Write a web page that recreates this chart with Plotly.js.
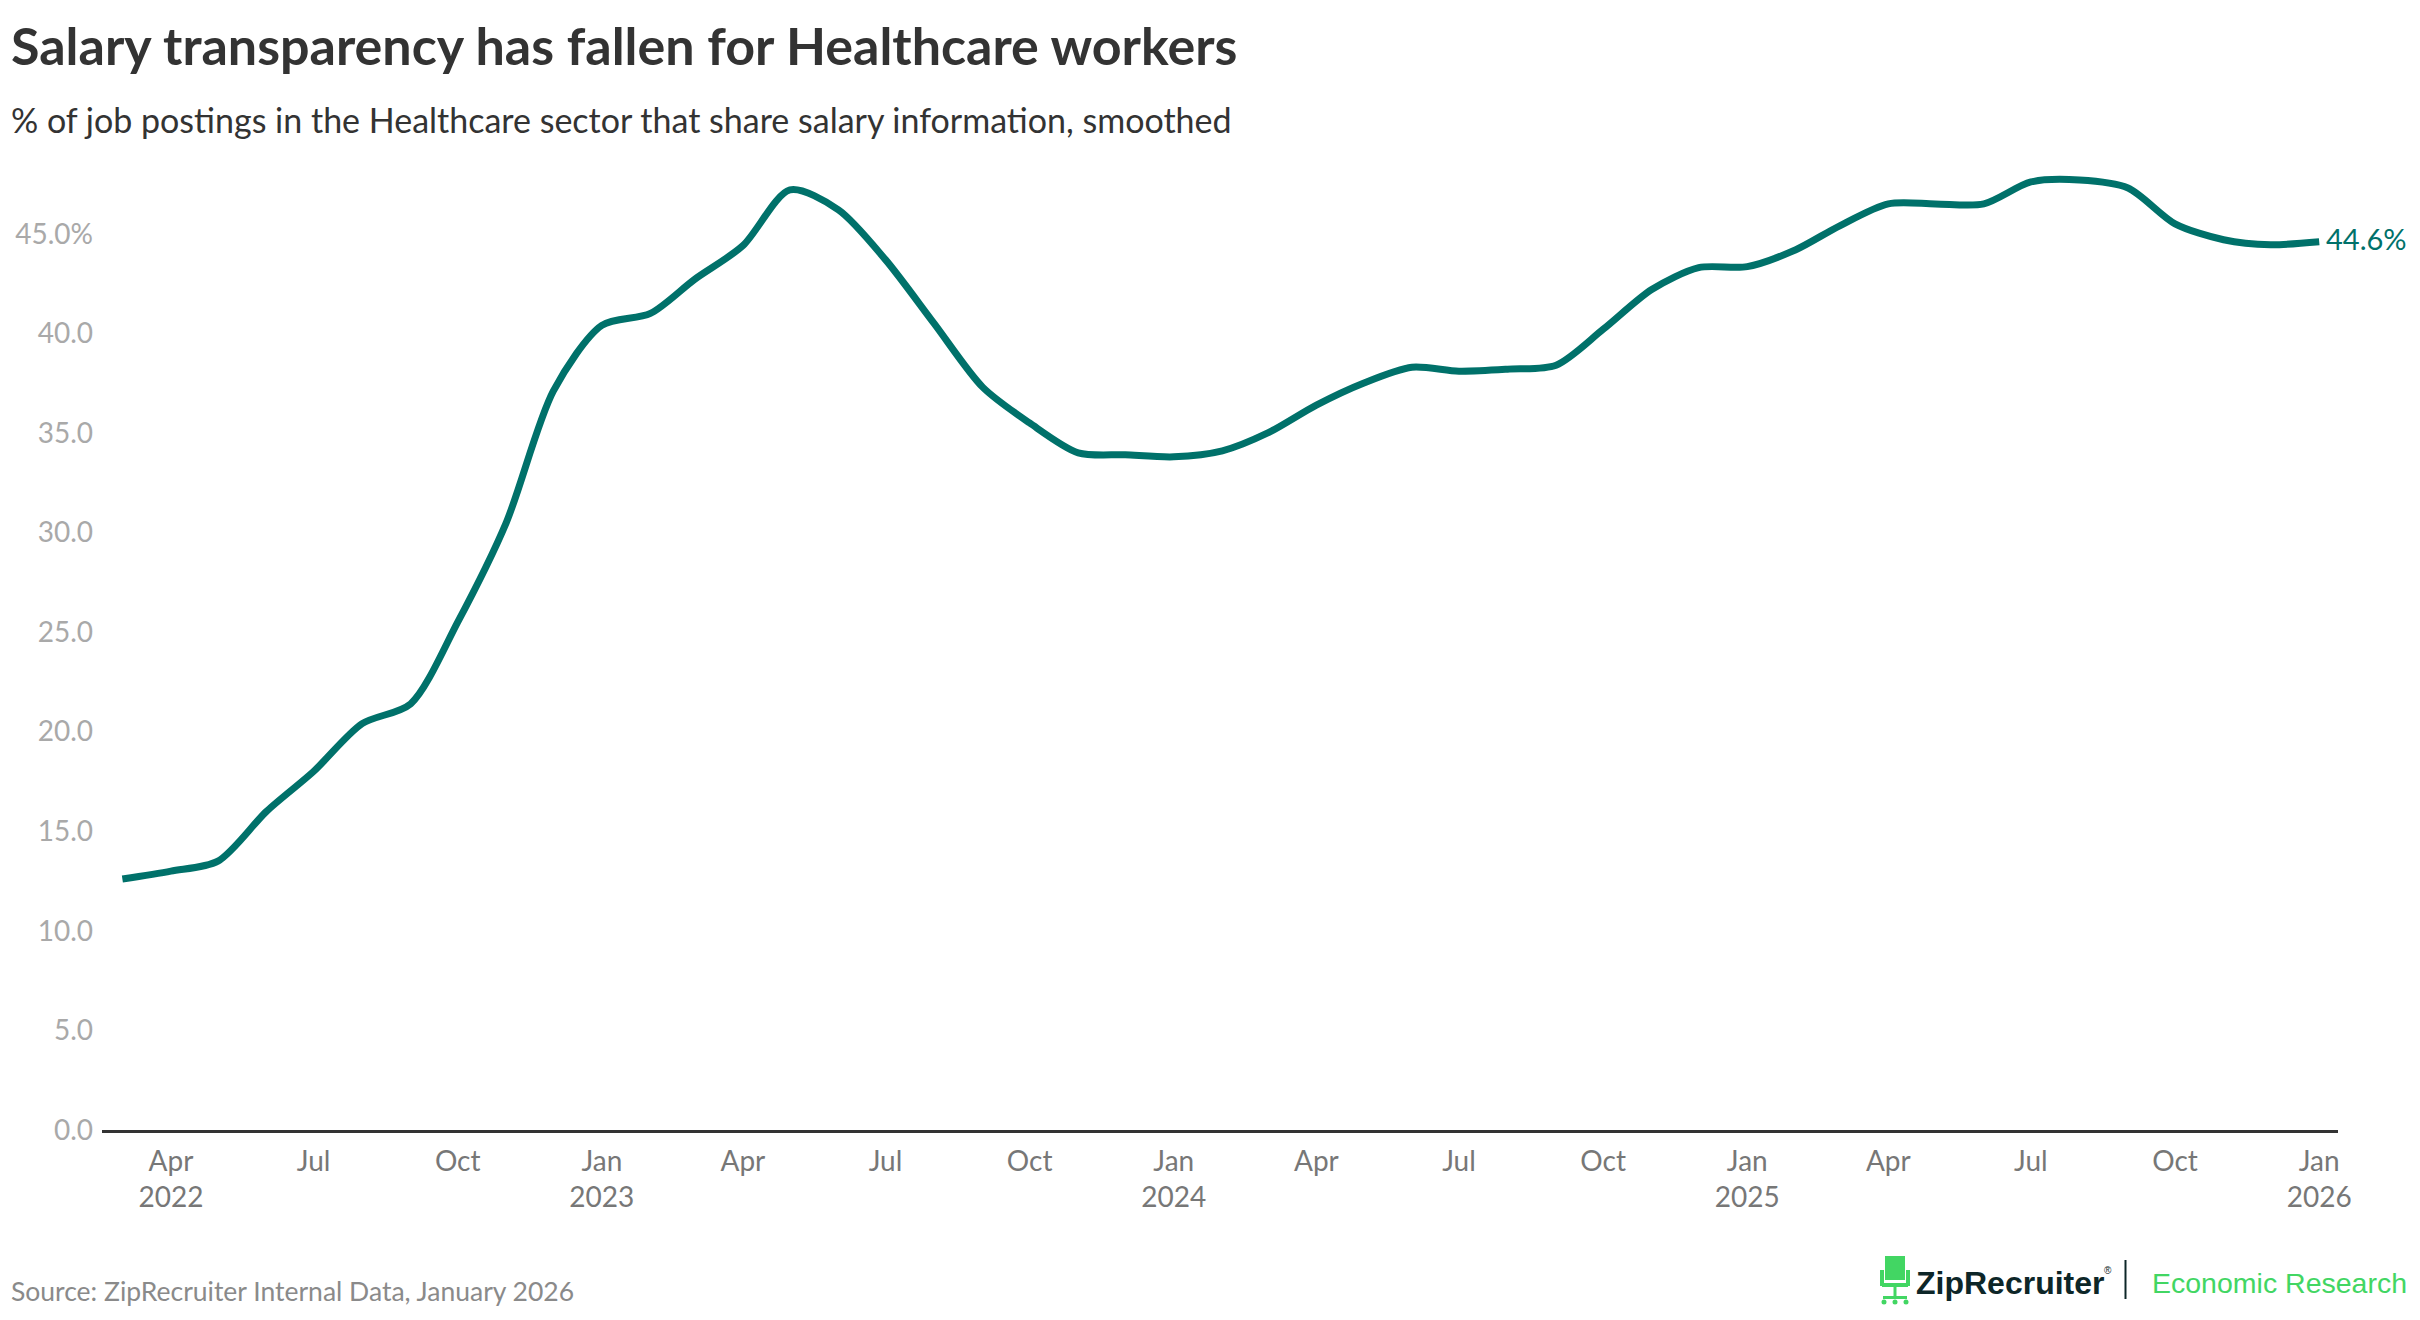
<!DOCTYPE html>
<html>
<head>
<meta charset="utf-8">
<script src="https://cdn.plot.ly/plotly-3.0.1.min.js"></script>
<style>
  html, body { margin: 0; padding: 0; background: #ffffff; }
  #chart { width: 2420px; height: 1320px; }
</style>
</head>
<body>
<div id="chart"></div>
<script>
// ---- Data (monthly, % of Healthcare job postings sharing salary info, smoothed) ----
const months = [
  '2022-03-01','2022-04-01','2022-05-01','2022-06-01','2022-07-01','2022-08-01',
  '2022-09-01','2022-10-01','2022-11-01','2022-12-01','2023-01-01','2023-02-01',
  '2023-03-01','2023-04-01','2023-05-01','2023-06-01','2023-07-01','2023-08-01',
  '2023-09-01','2023-10-01','2023-11-01','2023-12-01','2024-01-01','2024-02-01',
  '2024-03-01','2024-04-01','2024-05-01','2024-06-01','2024-07-01','2024-08-01',
  '2024-09-01','2024-10-01','2024-11-01','2024-12-01','2025-01-01','2025-02-01',
  '2025-03-01','2025-04-01','2025-05-01','2025-06-01','2025-07-01','2025-08-01',
  '2025-09-01','2025-10-01','2025-11-01','2025-12-01','2026-01-01'
];
const healthcareShare = [
  12.6, 13.0, 13.5, 16.0, 18.0, 20.4,
  21.4, 25.5, 30.5, 37.1, 40.4, 41.0,
  42.7, 44.4, 47.2, 46.2, 43.7, 40.5,
  37.3, 35.5, 34.0, 33.9, 33.8, 34.1,
  35.0, 36.4, 37.5, 38.3, 38.1, 38.2,
  38.4, 40.2, 42.2, 43.3, 43.35, 44.2,
  45.4, 46.5, 46.5, 46.5, 47.6, 47.7,
  47.3, 45.5, 44.7, 44.45, 44.6
];

const xTickVals = [
  '2022-04-01','2022-07-01','2022-10-01','2023-01-01','2023-04-01','2023-07-01',
  '2023-10-01','2024-01-01','2024-04-01','2024-07-01','2024-10-01','2025-01-01',
  '2025-04-01','2025-07-01','2025-10-01','2026-01-01'
];
const xTickText = [
  'Apr<br>2022','Jul','Oct','Jan<br>2023','Apr','Jul',
  'Oct','Jan<br>2024','Apr','Jul','Oct','Jan<br>2025',
  'Apr','Jul','Oct','Jan<br>2026'
];
const yTickVals = [0, 5, 10, 15, 20, 25, 30, 35, 40, 45];
const yTickText = ['0.0','5.0','10.0','15.0','20.0','25.0','30.0','35.0','40.0','45.0%'];

const titleText = 'Salary transparency has fallen for Healthcare workers';
const subtitleText = '% of job postings in the Healthcare sector that share salary information, smoothed';
const sourceText = 'Source: ZipRecruiter Internal Data, January 2026';
const lastLabel = healthcareShare[healthcareShare.length - 1].toFixed(1) + '%';

// ---- Layout geometry helpers ----
const W = 2420, H = 1320;
const M = { l: 102, r: 82, t: 174, b: 190 };
const PW = W - M.l - M.r, PH = H - M.t - M.b;
const px = x => (x - M.l) / PW;
const py = y => (H - M.b - y) / PH;

const TEAL = '#00716a';
const GREEN = '#42d663';
const DARK = '#0d2628';
const FONT = 'Lato, "Open Sans", sans-serif';
const LOGOFONT = '"Liberation Sans", Arial, sans-serif';

const trace = {
  x: months,
  y: healthcareShare,
  type: 'scatter',
  mode: 'lines',
  line: { color: TEAL, width: 7, shape: 'spline', smoothing: 0.8 },
  hoverinfo: 'skip'
};

function rect(x0, y0, x1, y1, color) {
  return { type: 'rect', xref: 'paper', yref: 'paper',
    x0: px(x0), x1: px(x1), y0: py(y1), y1: py(y0),
    fillcolor: color, line: { width: 0 }, layer: 'above' };
}
function circ(cx, cy, r, color) {
  return { type: 'circle', xref: 'paper', yref: 'paper',
    x0: px(cx - r), x1: px(cx + r), y0: py(cy + r), y1: py(cy - r),
    fillcolor: color, line: { width: 0 }, layer: 'above' };
}

const LY = -4; // logo vertical offset
const shapes = [
  // chair logo
  rect(1885, 1260 + LY, 1905, 1284 + LY, GREEN),
  rect(1880, 1274 + LY, 1884, 1290 + LY, GREEN),
  rect(1906, 1274 + LY, 1910, 1290 + LY, GREEN),
  rect(1882, 1287 + LY, 1908, 1291 + LY, GREEN),
  rect(1893.5, 1291 + LY, 1896.5, 1302 + LY, GREEN),
  rect(1883, 1300 + LY, 1907, 1303 + LY, GREEN),
  circ(1884, 1306 + LY, 2.5, GREEN),
  circ(1906, 1306 + LY, 2.5, GREEN),
  circ(1895, 1306 + LY, 2.5, GREEN),
  // separator
  { type: 'line', xref: 'paper', yref: 'paper',
    x0: px(2125.5), x1: px(2125.5), y0: py(1303 + LY), y1: py(1264 + LY),
    line: { color: DARK, width: 2 } }
];

const annotations = [
  { text: '<b>' + titleText + '</b>', xref: 'paper', yref: 'paper',
    x: px(9), y: py(45), xanchor: 'left', yanchor: 'middle', showarrow: false,
    font: { family: FONT, size: 52, color: '#333333' } },
  { text: subtitleText, xref: 'paper', yref: 'paper',
    x: px(9), y: py(120), xanchor: 'left', yanchor: 'middle', showarrow: false,
    font: { family: FONT, size: 34, color: '#333333' } },
  { text: sourceText, xref: 'paper', yref: 'paper',
    x: px(9), y: py(1291), xanchor: 'left', yanchor: 'middle', showarrow: false,
    font: { family: FONT, size: 26.5, color: '#8a8a8a' } },
  { text: lastLabel, x: months[months.length - 1], y: healthcareShare[healthcareShare.length - 1],
    xref: 'x', yref: 'y', xanchor: 'left', yanchor: 'middle', xshift: 5, yshift: 3, showarrow: false,
    font: { family: FONT, size: 29, color: TEAL } },
  { text: '<b>ZipRecruiter</b>', xref: 'paper', yref: 'paper',
    x: px(1914), y: py(1287 + LY), xanchor: 'left', yanchor: 'middle', showarrow: false,
    font: { family: LOGOFONT, size: 32, color: DARK } },
  { text: '®', xref: 'paper', yref: 'paper',
    x: px(2102), y: py(1274 + LY), xanchor: 'left', yanchor: 'middle', showarrow: false,
    font: { family: LOGOFONT, size: 10, color: DARK } },
  { text: 'Economic Research', xref: 'paper', yref: 'paper',
    x: px(2150), y: py(1287 + LY), xanchor: 'left', yanchor: 'middle', showarrow: false,
    font: { family: LOGOFONT, size: 28.5, color: GREEN } }
];

const layout = {
  width: W, height: H,
  margin: M,
  paper_bgcolor: '#ffffff', plot_bgcolor: '#ffffff',
  showlegend: false,
  hovermode: false,
  font: { family: FONT },
  xaxis: {
    type: 'date',
    range: ['2022-02-16', '2026-01-13'],
    tickmode: 'array', tickvals: xTickVals, ticktext: xTickText,
    showgrid: false, zeroline: false,
    showline: true, linecolor: '#333333', linewidth: 3,
    ticks: '', ticklabelstandoff: 4,
    tickfont: { family: FONT, size: 28, color: '#777777' },
    fixedrange: true
  },
  yaxis: {
    range: [0, 48],
    tickmode: 'array', tickvals: yTickVals, ticktext: yTickText,
    showgrid: false, zeroline: false, showline: false,
    ticks: '', ticklabelstandoff: 8,
    tickfont: { family: FONT, size: 28, color: '#a9a9a9' },
    fixedrange: true
  },
  shapes: shapes,
  annotations: annotations
};

Plotly.newPlot('chart', [trace], layout, { displayModeBar: false, staticPlot: true });
</script>
</body>
</html>
